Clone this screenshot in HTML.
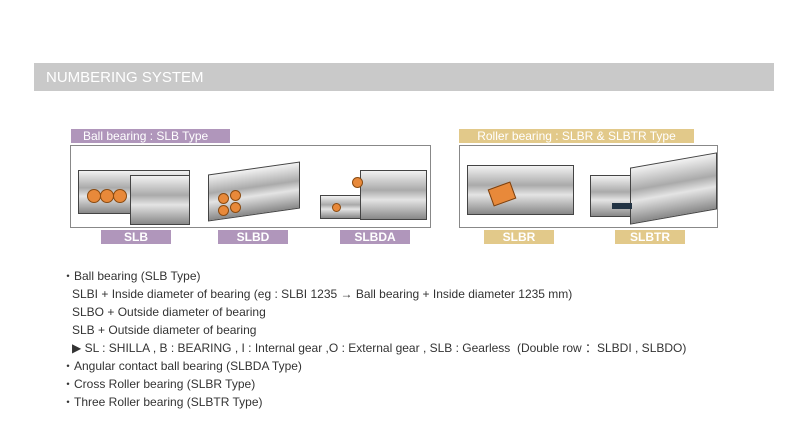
<!DOCTYPE html>
<html><head><meta charset="utf-8"><style>
body{margin:0;width:792px;height:432px;background:#fff;position:relative;overflow:hidden;font-family:"Liberation Sans",sans-serif}
.a{position:absolute}
.hdr{left:34px;top:63px;width:740px;height:28px;background:#c9c9c9;color:#fff;font-size:15px;line-height:29px;padding-left:12px;box-sizing:border-box}
.lab{color:#fff;font-size:12px;line-height:14px;text-align:center;font-weight:bold}
.p{background:#b096bb}.g{background:#e2c98a}
.box{border:1px solid #888;box-sizing:border-box}
.t{left:62px;font-size:12px;color:#333;line-height:18px;white-space:pre}
.metal{background:linear-gradient(#f2f2f2,#aaa 40%,#e4e4e4 60%,#888);border:1px solid #444}
.ball{border-radius:50%;background:#e8893a;border:1px solid #8a4a10}
</style></head><body>
<div class="a hdr">NUMBERING SYSTEM</div>

<div class="a lab p" style="left:71px;top:129px;width:159px;text-align:left;padding-left:12px;box-sizing:border-box;font-weight:normal">Ball bearing : SLB Type</div>
<div class="a box" style="left:70px;top:145px;width:361px;height:83px"></div>
<div class="a metal" style="left:78px;top:170px;width:110px;height:42px"></div>
<div class="a metal" style="left:130px;top:175px;width:58px;height:48px"></div>
<div class="a ball" style="left:87px;top:189px;width:12px;height:12px"></div>
<div class="a ball" style="left:100px;top:189px;width:12px;height:12px"></div>
<div class="a ball" style="left:113px;top:189px;width:12px;height:12px"></div>
<div class="a metal" style="left:208px;top:168px;width:90px;height:45px;transform:skewY(-8deg)"></div>
<div class="a ball" style="left:218px;top:193px;width:9px;height:9px"></div>
<div class="a ball" style="left:230px;top:190px;width:9px;height:9px"></div>
<div class="a ball" style="left:218px;top:205px;width:9px;height:9px"></div>
<div class="a ball" style="left:230px;top:202px;width:9px;height:9px"></div>
<div class="a metal" style="left:320px;top:195px;width:50px;height:22px"></div>
<div class="a metal" style="left:360px;top:170px;width:65px;height:48px"></div>
<div class="a ball" style="left:352px;top:177px;width:9px;height:9px"></div>
<div class="a ball" style="left:332px;top:203px;width:7px;height:7px"></div>
<div class="a lab p" style="left:101px;top:230px;width:70px">SLB</div>
<div class="a lab p" style="left:218px;top:230px;width:70px">SLBD</div>
<div class="a lab p" style="left:340px;top:230px;width:70px">SLBDA</div>

<div class="a lab g" style="left:459px;top:129px;width:235px;font-weight:normal">Roller bearing : SLBR &amp; SLBTR Type</div>
<div class="a box" style="left:459px;top:145px;width:259px;height:83px"></div>
<div class="a metal" style="left:467px;top:165px;width:105px;height:48px"></div>
<div class="a" style="left:490px;top:185px;width:22px;height:16px;background:#e8893a;border:1px solid #7a4010;transform:rotate(-20deg)"></div>
<div class="a metal" style="left:590px;top:175px;width:50px;height:40px"></div>
<div class="a metal" style="left:630px;top:160px;width:85px;height:55px;transform:skewY(-10deg)"></div>
<div class="a" style="left:612px;top:203px;width:20px;height:6px;background:#234;"></div>
<div class="a lab g" style="left:484px;top:230px;width:70px">SLBR</div>
<div class="a lab g" style="left:615px;top:230px;width:70px">SLBTR</div>

<div class="a t" style="top:267px">・Ball bearing (SLB Type)
   SLBI + Inside diameter of bearing (eg : SLBI 1235 → Ball bearing + Inside diameter 1235 mm)
   SLBO + Outside diameter of bearing
   SLB + Outside diameter of bearing
   ▶ SL : SHILLA , B : BEARING , I : Internal gear ,O : External gear , SLB : Gearless  (Double row ：SLBDI , SLBDO)
・Angular contact ball bearing (SLBDA Type)
・Cross Roller bearing (SLBR Type)
・Three Roller bearing (SLBTR Type)</div>
</body></html>
